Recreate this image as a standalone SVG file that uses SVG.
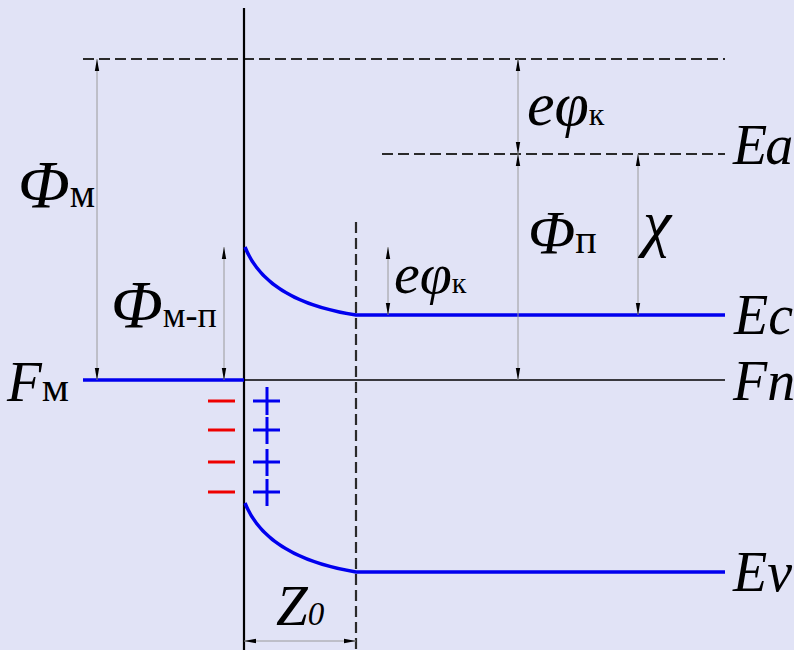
<svg xmlns="http://www.w3.org/2000/svg" width="794" height="650" viewBox="0 0 794 650">
<defs>
<style>
.bg{fill:#e1e3f6}
.dash{stroke:#2a2a2a;stroke-width:2.2;stroke-dasharray:11 5;fill:none}
.axis{stroke:#000;stroke-width:2.2;fill:none}
.thin{stroke:#000;stroke-width:1.6;fill:none}
.band{stroke:#0000ee;stroke-width:3.5;fill:none}
.dim{stroke:#9a9a9a;stroke-width:1;fill:none;marker-start:url(#ah);marker-end:url(#ah)}
.minus{stroke:#ee0000;stroke-width:3;fill:none}
.plus{stroke:#0000ee;stroke-width:3;fill:none}
text{font-family:"Liberation Serif","Times New Roman",serif;fill:#000}
.it{font-style:italic}
</style>
<marker id="ah" viewBox="0 0 12 6" refX="12" refY="3" markerWidth="12" markerHeight="6" markerUnits="userSpaceOnUse" orient="auto-start-reverse">
<path d="M0,0.8 L12,3 L0,5.2 z" fill="#000"/>
</marker>
</defs>
<rect class="bg" x="0" y="0" width="794" height="650"/>

<g id="levels">
<line class="dash" x1="83" y1="59" x2="725" y2="59"/>
<line class="dash" x1="382" y1="154" x2="725" y2="154"/>
<line class="dash" x1="356" y1="222" x2="356" y2="650"/>
<line class="axis" x1="244" y1="8" x2="244" y2="650"/>
<line class="thin" x1="244" y1="380" x2="725" y2="380"/>
</g>

<g id="metal-fermi">
<line class="band" x1="83" y1="380" x2="244" y2="380"/>
</g>

<g id="conduction-band">
<path class="band" d="M245,247 C258,280 290,305 356,315 L725,315"/>
</g>

<g id="valence-band">
<path class="band" d="M245,503 C258,536 290,561 356,572 L725,572"/>
</g>

<g id="charges">
<line class="minus" x1="208" y1="401" x2="235" y2="401"/>
<line class="minus" x1="208" y1="430" x2="235" y2="430"/>
<line class="minus" x1="208" y1="462" x2="235" y2="462"/>
<line class="minus" x1="208" y1="492" x2="235" y2="492"/>
<path class="plus" d="M253,401 H280 M267,387 V415 M253,430 H280 M267,417 V444 M253,462 H280 M267,449 V476 M253,492 H280 M267,479 V506"/>
</g>

<g id="connectors">
<line class="dim" x1="97" y1="59" x2="97" y2="380"/>
<line class="dim" x1="224" y1="247" x2="224" y2="380"/>
<line class="dim" x1="518" y1="59" x2="518" y2="154"/>
<line class="dim" x1="518" y1="154" x2="518" y2="380"/>
<line class="dim" x1="638" y1="154" x2="638" y2="315"/>
<line class="dim" x1="388" y1="247" x2="388" y2="315"/>
<line class="dim" x1="244" y1="641" x2="356" y2="641"/>
</g>

<g id="labels">
<text x="18" y="207"><tspan class="it" font-size="68">Φ</tspan><tspan font-size="40">м</tspan></text>
<text x="111" y="327"><tspan class="it" font-size="68">Φ</tspan><tspan font-size="36">м-п</tspan></text>
<text x="527" y="125"><tspan class="it" font-size="62">eφ</tspan><tspan font-size="32">к</tspan></text>
<text x="528" y="253"><tspan class="it" font-size="62">Φ</tspan><tspan font-size="40">п</tspan></text>
<text class="it" x="643" y="244" font-size="64">χ</text>
<text x="394" y="293"><tspan class="it" font-size="58">eφ</tspan><tspan font-size="30">к</tspan></text>
<text class="it" x="733" y="164" font-size="56" letter-spacing="-2">Ea</text>
<text class="it" x="734" y="334" font-size="56">Ec</text>
<text x="7" y="401"><tspan class="it" font-size="57">F</tspan><tspan font-size="43">м</tspan></text>
<text class="it" x="733" y="400" font-size="56">Fn</text>
<text class="it" x="733" y="591" font-size="56">Ev</text>
<text class="it" x="276" y="625"><tspan font-size="57">Z</tspan><tspan font-size="33">0</tspan></text>
</g>
</svg>
